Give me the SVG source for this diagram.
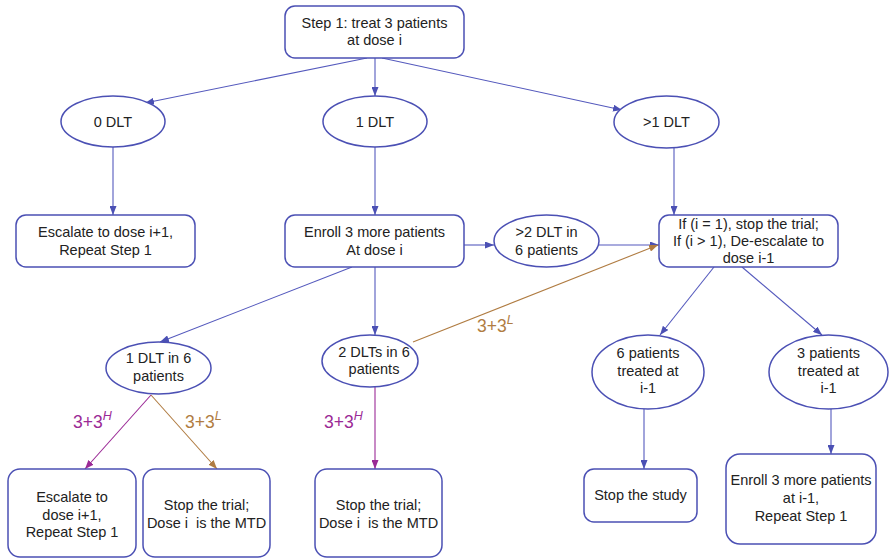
<svg xmlns="http://www.w3.org/2000/svg" width="889" height="559" viewBox="0 0 889 559">
<style>
.box{fill:#fff;stroke:#4b50b4;stroke-width:1.5}
.t{font-family:"Liberation Sans",Arial,sans-serif;font-size:14.5px;fill:#222;text-anchor:middle}
.lb{font-family:"Liberation Sans",Arial,sans-serif;font-size:17.5px}
.sup{font-size:12.5px;font-style:italic}
.c{fill:none;stroke-width:1.1}
.b{stroke:#5459bd;marker-end:url(#ab)}
.p{stroke:#9b2a96;marker-end:url(#ap)}
.o{stroke:#b07c42;marker-end:url(#ao)}
</style>
<defs>
<marker id="ab" markerUnits="userSpaceOnUse" markerWidth="9" markerHeight="7" refX="9" refY="3.5" orient="auto"><path d="M0,0 L9,3.5 L0,7 z" fill="#4b50b4"/></marker>
<marker id="ap" markerUnits="userSpaceOnUse" markerWidth="9" markerHeight="7" refX="9" refY="3.5" orient="auto"><path d="M0,0 L9,3.5 L0,7 z" fill="#9b2a96"/></marker>
<marker id="ao" markerUnits="userSpaceOnUse" markerWidth="9" markerHeight="7" refX="9" refY="3.5" orient="auto"><path d="M0,0 L9,3.5 L0,7 z" fill="#b07c42"/></marker>
</defs>
<rect width="889" height="559" fill="#fff"/>
<g id="connectors">
<line class="c b" x1="367" y1="58" x2="145" y2="103"/>
<line class="c b" x1="375" y1="58" x2="375" y2="96"/>
<line class="c b" x1="382" y1="58" x2="622" y2="110"/>
<line class="c b" x1="113" y1="147" x2="113" y2="215"/>
<line class="c b" x1="375" y1="147" x2="375" y2="215"/>
<line class="c b" x1="674" y1="148" x2="674" y2="215"/>
<line class="c b" x1="464" y1="245" x2="494" y2="245"/>
<line class="c b" x1="599" y1="245" x2="659" y2="245"/>
<line class="c b" x1="352" y1="267" x2="160" y2="342"/>
<line class="c b" x1="375" y1="267" x2="375" y2="335"/>
<line class="c o" x1="413" y1="342" x2="658" y2="245"/>
<line class="c p" x1="151" y1="395" x2="85" y2="469"/>
<line class="c o" x1="151" y1="395" x2="217" y2="469"/>
<line class="c p" x1="375" y1="387" x2="375" y2="469"/>
<line class="c b" x1="714" y1="267" x2="660" y2="335"/>
<line class="c b" x1="742" y1="267" x2="822" y2="335"/>
<line class="c b" x1="644" y1="409" x2="644" y2="469"/>
<line class="c b" x1="831" y1="409" x2="831" y2="454"/>
<text class="lb" x="73" y="428" fill="#9b2a96">3+3<tspan class="sup" dy="-8">H</tspan></text>
<text class="lb" x="185" y="428" fill="#b07c42">3+3<tspan class="sup" dy="-8">L</tspan></text>
<text class="lb" x="324" y="428" fill="#9b2a96">3+3<tspan class="sup" dy="-8">H</tspan></text>
<text class="lb" x="477" y="332" fill="#b07c42">3+3<tspan class="sup" dy="-8">L</tspan></text>
</g>
<g id="step1"><rect class="box" x="285" y="6" width="179" height="52" rx="10"/><text class="t" x="374.5" y="28">Step 1: treat 3 patients</text><text class="t" x="374.5" y="45">at dose i</text></g>
<g id="dlt0"><ellipse class="box" cx="113" cy="121.5" rx="52" ry="25.5"/><text class="t" x="113" y="126.5">0 DLT</text></g>
<g id="dlt1"><ellipse class="box" cx="375" cy="121.5" rx="52" ry="25.5"/><text class="t" x="375" y="126.5">1 DLT</text></g>
<g id="dltgt1"><ellipse class="box" cx="666.5" cy="122" rx="52.5" ry="26"/><text class="t" x="666.5" y="127">&gt;1 DLT</text></g>
<g id="escalate"><rect class="box" x="16" y="215" width="179" height="52" rx="10"/><text class="t" x="105.5" y="237">Escalate to dose i+1,</text><text class="t" x="105.5" y="255">Repeat Step 1</text></g>
<g id="enroll"><rect class="box" x="285" y="215" width="179" height="52" rx="10"/><text class="t" x="374.5" y="237">Enroll 3 more patients</text><text class="t" x="374.5" y="255">At dose i</text></g>
<g id="dltgt2"><ellipse class="box" cx="546.5" cy="241" rx="52.5" ry="26"/><text class="t" x="546.5" y="237">&gt;2 DLT in</text><text class="t" x="546.5" y="255">6 patients</text></g>
<g id="ifbox"><rect class="box" x="659" y="215" width="179" height="52" rx="10"/><text class="t" x="748.5" y="229">If (i = 1), stop the trial;</text><text class="t" x="748.5" y="246">If (i &gt; 1), De-escalate to</text><text class="t" x="748.5" y="263">dose i-1</text></g>
<g id="dlt1in6"><ellipse class="box" cx="158.5" cy="368" rx="52.5" ry="26"/><text class="t" x="158.5" y="363">1 DLT in 6</text><text class="t" x="158.5" y="381">patients</text></g>
<g id="dlt2in6"><ellipse class="box" cx="370" cy="361" rx="48" ry="26"/><text class="t" x="374" y="357">2 DLTs in 6</text><text class="t" x="374" y="374">patients</text></g>
<g id="six"><ellipse class="box" cx="648" cy="372" rx="56" ry="37"/><text class="t" x="648" y="358">6 patients</text><text class="t" x="648" y="376">treated at</text><text class="t" x="648" y="393">i-1</text></g>
<g id="three"><ellipse class="box" cx="828.5" cy="372" rx="59.5" ry="37"/><text class="t" x="828.5" y="358">3 patients</text><text class="t" x="828.5" y="376">treated at</text><text class="t" x="828.5" y="393">i-1</text></g>
<g id="escalate2"><rect class="box" x="8" y="469" width="128" height="88" rx="12"/><text class="t" x="72" y="502">Escalate to</text><text class="t" x="72" y="520">dose i+1,</text><text class="t" x="72" y="537">Repeat Step 1</text></g>
<g id="stop1"><rect class="box" x="143" y="469" width="127" height="88" rx="12"/><text class="t" x="206.5" y="510">Stop the trial;</text><text class="t" x="206.5" y="528" xml:space="preserve">Dose i  is the MTD</text></g>
<g id="stop2"><rect class="box" x="315" y="469" width="127" height="88" rx="12"/><text class="t" x="378.5" y="510">Stop the trial;</text><text class="t" x="378.5" y="528" xml:space="preserve">Dose i  is the MTD</text></g>
<g id="stopstudy"><rect class="box" x="584" y="469" width="113" height="53" rx="10"/><text class="t" x="640.5" y="500">Stop the study</text></g>
<g id="enroll2"><rect class="box" x="726" y="454" width="150" height="90" rx="14"/><text class="t" x="801" y="485">Enroll 3 more patients</text><text class="t" x="801" y="503">at i-1,</text><text class="t" x="801" y="521">Repeat Step 1</text></g>
</svg>
